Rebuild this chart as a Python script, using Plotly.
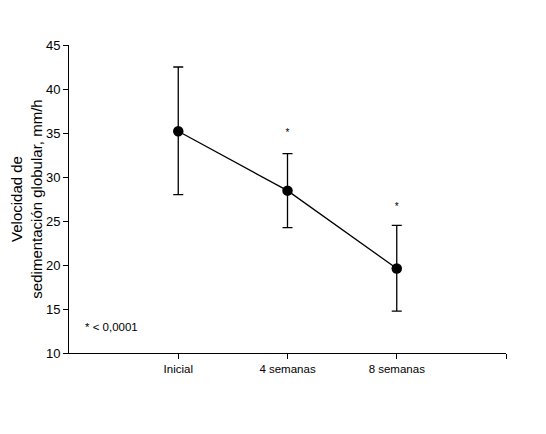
import plotly.graph_objects as go

# data
etapas = ["Inicial", "4 semanas", "8 semanas"]
posicion = [1, 2, 3]
vsg_media = [35.2, 28.45, 19.6]
error_sup = [7.3, 4.2, 4.9]
error_inf = [7.2, 4.2, 4.85]
asterisco_x = [2, 3]
asterisco_y = [35.0, 26.5]

fig = go.Figure()
fig.add_trace(go.Scatter(
    x=posicion, y=vsg_media, mode="lines+markers",
    line=dict(color="black", width=1.3),
    marker=dict(color="black", size=10.5),
    error_y=dict(type="data", symmetric=False, array=error_sup, arrayminus=error_inf,
                 color="black", thickness=1.3, width=5),
    showlegend=False))

fig.add_trace(go.Scatter(
    x=asterisco_x, y=asterisco_y, mode="text", text=["*", "*"],
    textfont=dict(family="Arial", size=10, color="black"),
    showlegend=False))

fig.add_annotation(x=0.13, y=12.9, text="* < 0,0001", showarrow=False,
                   xanchor="left", font=dict(family="Arial", size=11.5, color="black"))

fig.update_layout(
    width=546, height=434,
    margin=dict(l=61, r=48, t=37, b=89),
    paper_bgcolor="white", plot_bgcolor="white",
    font=dict(family="Arial", color="black"),
    xaxis=dict(range=[0, 4], tickvals=[1, 2, 3, 4], ticktext=etapas + [""],
               showgrid=False, zeroline=False, showline=True, linecolor="black",
               linewidth=1, ticks="outside", ticklen=5, tickcolor="black",
               tickfont=dict(size=11.5), automargin=False),
    yaxis=dict(range=[10, 45], dtick=5, showgrid=False, zeroline=False,
               showline=True, linecolor="black", linewidth=1, ticks="outside",
               ticklen=5, tickcolor="black", tickfont=dict(size=13),
               automargin=False,
               title=dict(text="Velocidad de<br>sedimentación globular, mm/h",
                          font=dict(size=15), standoff=12)),
)

fig.write_html("out.html")
